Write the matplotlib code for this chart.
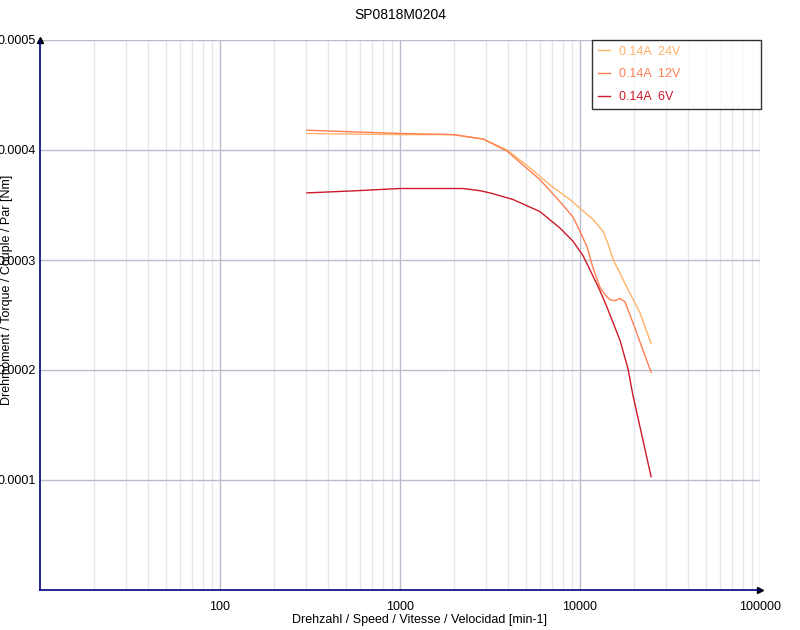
import matplotlib
matplotlib.use('Agg')
import matplotlib.pyplot as plt
from matplotlib.ticker import FixedLocator, NullFormatter, LogLocator

plt.rcParams['font.family'] = ['Liberation Sans', 'DejaVu Sans']

# speed [min-1] and torque [Nm]
speed_24v = [304, 1000, 1968, 2890, 3930, 5077, 7080, 8799, 10000, 11800, 13420,
             14300, 15230, 18230, 21540, 24830]
torque_24v = [0.000415, 0.000414, 0.000414, 0.000410, 0.000400, 0.000386, 0.000366,
              0.000355, 0.000347, 0.000337, 0.000326, 0.000315, 0.000301, 0.000275,
              0.000252, 0.000224]

speed_12v = [304, 1000, 1968, 2890, 3930, 5995, 7743, 9146, 10000, 10940, 11800,
             12915, 14000, 14680, 15640, 16680, 17780, 19680, 22390, 24830]
torque_12v = [0.000418, 0.000415, 0.000414, 0.000410, 0.000399, 0.000373, 0.000353,
              0.000339, 0.000326, 0.000312, 0.000293, 0.000275, 0.000267, 0.000264,
              0.000263, 0.000265, 0.000262, 0.000243, 0.000218, 0.000198]

speed_6v = [304, 577, 1000, 1668, 2239, 2780, 3162, 4245, 5995, 7743, 9146, 10390,
            11365, 12915, 14130, 16680, 18480, 19680, 22390, 24830]
torque_6v = [0.000361, 0.000363, 0.000365, 0.000365, 0.000365, 0.000363, 0.000361,
             0.000355, 0.000344, 0.000329, 0.000317, 0.000304, 0.000291, 0.000272,
             0.000257, 0.000227, 0.000201, 0.000177, 0.000136, 0.000103]

labels = ['0.14A  24V', '0.14A  12V', '0.14A  6V']
colors = ['#ffb366', '#ff7f50', '#cc1a2a']

fig = plt.figure(figsize=(8, 6.3), dpi=100)
ax = fig.add_axes([0.05, 1 - 590 / 630, 0.9, 550 / 630])

ax.set_xscale('log')
ax.set_xlim(10, 100000)
ax.set_ylim(0, 0.0005)

# grid
ax.xaxis.set_minor_locator(LogLocator(base=10, subs=range(2, 10)))
ax.xaxis.set_minor_formatter(NullFormatter())
ax.grid(True, which='minor', axis='x', color='#dfe7ef', lw=1)
ax.grid(True, which='major', axis='x', color='#bcbccc', lw=1)
ax.grid(True, which='major', axis='y', color='#bcbccc', lw=1)
ax.set_axisbelow(True)

lines = []
for sx, ty, lab, col in zip([speed_24v, speed_12v, speed_6v],
                            [torque_24v, torque_12v, torque_6v], labels, colors):
    l, = ax.plot(sx, ty, color=col, lw=1.0, label=lab)
    lines.append(l)

# ticks
ax.xaxis.set_major_locator(FixedLocator([100, 1000, 10000, 100000]))
ax.set_xticklabels(['100', '1000', '10000', '100000'])
ax.set_yticks([0.0001, 0.0002, 0.0003, 0.0004, 0.0005])
ax.set_yticklabels(['0.0001', '0.0002', '0.0003', '0.0004', '0.0005'])
ax.tick_params(axis='both', which='both', length=0, labelsize=9, colors='black')
ax.tick_params(axis='x', pad=8)
ax.tick_params(axis='y', pad=3)

for s in ['top', 'right']:
    ax.spines[s].set_visible(False)
for s in ['left', 'bottom']:
    ax.spines[s].set_color('#000080')
    ax.spines[s].set_linewidth(1.2)

# arrows at axis ends
ax.plot(1, 0, '>', color='black', ms=5, transform=ax.transAxes, clip_on=False)
ax.plot(0, 1, '^', color='black', ms=5, transform=ax.transAxes, clip_on=False)

fig.text(0.5, 1 - 15 / 630, 'SP0818M0204', ha='center', va='center', fontsize=10)
fig.text(0.525, 1 - 620 / 630, 'Drehzahl / Speed / Vitesse / Velocidad [min-1]',
         ha='center', va='center', fontsize=9)
fig.text(7 / 800, 1 - 290 / 630, 'Drehmoment / Torque / Couple / Par [Nm]',
         ha='center', va='center', rotation=90, fontsize=9)

leg = ax.legend(handles=lines, loc='upper left',
                bbox_to_anchor=((592 - 40) / 720, 1.0, (761 - 592) / 720, 0.0),
                mode='expand', frameon=True, fancybox=False, fontsize=9,
                handlelength=1.0, borderpad=0.45, labelspacing=0.85,
                handletextpad=0.7, borderaxespad=0)
leg.get_frame().set_edgecolor('black')
leg.get_frame().set_linewidth(1)
for txt, col in zip(leg.get_texts(), colors):
    txt.set_color(col)

fig.savefig('out.png', dpi=100)
